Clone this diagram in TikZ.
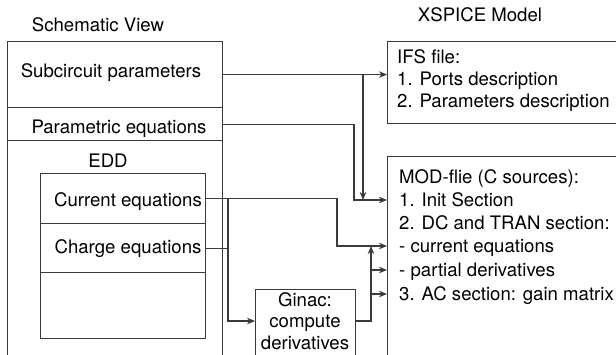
\documentclass[tikz,border=0pt]{standalone}
\usepackage{fontspec}
\setmainfont{TeX Gyre Heros}
\usetikzlibrary{arrows.meta}
\definecolor{linec}{HTML}{3A3A3A}
\begin{document}
\begin{tikzpicture}[x=1pt,y=-1pt,
  box/.style={draw=linec, line width=1.1pt, inner sep=0pt, anchor=north west},
  txt/.style={inner sep=0pt, text height=13.3pt, text depth=0pt, font=\fontsize{18.6}{22}\selectfont, text=black},
  ltxt/.style={txt, anchor=west},
  ln/.style={draw=linec, line width=1.1pt},
  arr/.style={ln, -{Stealth[length=8pt,width=6.5pt,inset=2.5pt]}}]
\useasboundingbox (0,0) rectangle (616,354);
\fill[white] (0,0) rectangle (616,354);
\clip (0,0) rectangle (616,354);

% titles
\node[txt] (tsv) at (98,25) {Schematic View};
\node[txt] (txs) at (480,15) {XSPICE Model};

% schematic view boxes
\node[box, minimum width=215pt, minimum height=66pt] (subckt) at (7,41) {};
\node[box, minimum width=215pt, minimum height=33pt] (param) at (7,107) {};
\node[box, minimum width=215pt, minimum height=240pt] (edd) at (7,140) {};
\node[txt] (tsub) at (111,71) {Subcircuit parameters};
\node[txt] (tpar) at (119,127) {Parametric equations};
\node[txt] (tedd) at (108,161) {EDD};

% EDD inner boxes
\node[box, minimum width=165pt, minimum height=50pt] (cur) at (40,173) {};
\node[box, minimum width=165pt, minimum height=49pt] (chg) at (40,223) {};
\node[box, minimum width=165pt, minimum height=66pt] (emp) at (40,272) {};
\node[txt] (tcur) at (128,200) {Current equations};
\node[txt] (tchg) at (128,247) {Charge equations};

% Ginac box
\node[box, minimum width=100pt, minimum height=80pt] (ginac) at (255,289) {};
\node[txt] (g1) at (305,300) {Ginac:};
\node[txt] (g2) at (305,321) {compute};
\node[txt] (g3) at (305,343) {derivatives};

% IFS box
\node[box, minimum width=240pt, minimum height=82pt] (ifs) at (387,41) {};
\node[ltxt] (i1) at (397,57) {IFS file:};
\node[ltxt] (i2) at (397,79) {1. Ports description};
\node[ltxt] (i3) at (397,101) {2. Parameters description};

% MOD box
\node[box, minimum width=240pt, minimum height=220pt] (mod) at (387,156) {};
\node[ltxt] (m0) at (399,177) {MOD-flie (C sources):};
\node[ltxt] (m1) at (399,200) {1. Init Section};
\node[ltxt] (m2) at (399,223) {2. DC and TRAN section:};
\node[ltxt] (m3) at (399,246) {- current equations};
\node[ltxt] (m4) at (399,270) {- partial derivatives};
\node[ltxt] (m5) at (399,294) {3. AC section: gain matrix};

% routing columns
\coordinate (xa) at (363,0);
\coordinate (xb) at (354,0);
\coordinate (xc) at (337,0);
\coordinate (xd) at (228,0);
\coordinate (xe) at (371,0);

% connectors
\draw[arr] (subckt.east) -- (subckt.east -| ifs.west);
\draw[arr] (subckt.east -| xa) -- (xa |- m1.west);
\draw[arr] (param.east) -| (xb |- m1.west) -- (mod.west |- m1.west);
\draw[arr] (cur.east) -| (xc |- m3.west) -- (mod.west |- m3.west);
\draw[arr] (cur.east -| xd) |- (ginac.west |- g2.west);
\draw[ln] (chg.east) -- (chg.east -| xd);
\draw[arr] (ginac.east |- g2.west) -| (xe |- m3.west);
\draw[arr] (xe |- m4.west) -- (mod.west |- m4.west);
\draw[arr] (xe |- m5.west) -- (mod.west |- m5.west);
\end{tikzpicture}
\end{document}
